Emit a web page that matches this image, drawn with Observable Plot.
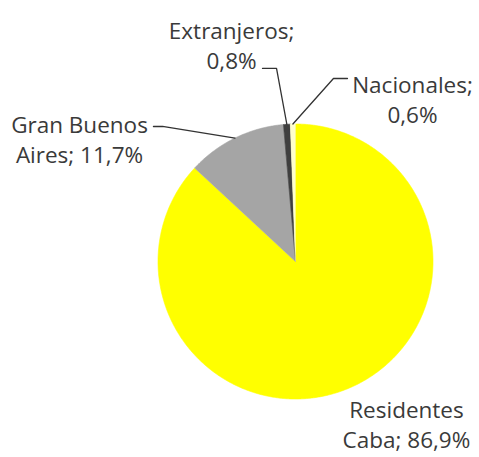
<!DOCTYPE html>
<html><head><meta charset="utf-8">
<script src="https://cdn.jsdelivr.net/npm/d3@7"></script>
<script src="https://cdn.jsdelivr.net/npm/@observablehq/plot@0.6"></script>
<style>body{margin:0;background:#fff}</style>
</head><body><div id="chart"></div>
<script>
// ---- data ----
const categories = ["Residentes Caba", "Gran Buenos Aires", "Extranjeros", "Nacionales"];
const shares = [86.9, 11.7, 0.8, 0.6];

// ---- styles ----
const colors = ["#FFFF00", "#A5A5A5", "#3F3F3F", "#FFFFCC"];

// ---- layout (in pie-radius units, centre = 0,0) ----
const labelPos = [[0.807, -0.985], [-1.571, 1.088], [-0.465, 1.772], [0.851, 1.379]];
const leaderBends = [null, [[-0.967, 0.982], [-1.033, 0.982]], [[-0.138, 1.404], [-0.240, 1.404]], [[0.276, 1.331], [0.378, 1.331]]];

const W = 479, H = 457, cx = 295, cy = 261, R = 137.5;
const total = d3.sum(shares);

// slices as polygons
const slices = [];
let acc = 0;
const mids = [];
categories.forEach((name, i) => {
  const a0 = acc / total * 2 * Math.PI;
  acc += shares[i];
  const a1 = acc / total * 2 * Math.PI;
  mids.push((a0 + a1) / 2);
  slices.push({name, x: 0, y: 0});
  const n = Math.max(2, Math.ceil((a1 - a0) / (Math.PI / 360)));
  for (let k = 0; k <= n; k++) {
    const a = a0 + (a1 - a0) * k / n;
    slices.push({name, x: Math.sin(a), y: Math.cos(a)});
  }
});

// leader lines
const leaders = [];
categories.forEach((name, i) => {
  if (!leaderBends[i]) return;
  leaders.push({name, x: Math.sin(mids[i]), y: Math.cos(mids[i])});
  leaderBends[i].forEach(([x, y]) => leaders.push({name, x, y}));
});

// labels
function wrap(text, maxChars) {
  const words = text.split(" ");
  const lines = [];
  let cur = "";
  for (const w of words) {
    if (cur && (cur + " " + w).length > maxChars) { lines.push(cur); cur = w; }
    else cur = cur ? cur + " " + w : w;
  }
  if (cur) lines.push(cur);
  return lines.join("\n");
}
const labels = categories.map((name, i) => ({
  name,
  text: wrap(`${name}; ${shares[i].toFixed(1).replace(".", ",")}%`, 12),
  x: labelPos[i][0],
  y: labelPos[i][1]
}));

const chart = Plot.plot({
  width: W,
  height: H,
  margin: 0,
  x: {domain: [-cx / R, (W - cx) / R], axis: null},
  y: {domain: [-(H - cy) / R, cy / R], axis: null},
  color: {domain: categories, range: colors},
  style: {fontFamily: "'Open Sans', sans-serif", background: "#fff"},
  marks: [
    Plot.line(slices, {x: "x", y: "y", z: "name", fill: "name", stroke: "name", strokeWidth: 0.6}),
    Plot.line(leaders, {x: "x", y: "y", z: "name", stroke: "#333333", strokeWidth: 1.3}),
    Plot.text(labels, {x: "x", y: "y", text: "text", textAnchor: "middle", lineAnchor: "top",
      lineHeight: 1.34, fontSize: 22.5, fill: "#3a3a3a"})
  ]
});
document.getElementById("chart").appendChild(chart);
</script>
</body></html>
